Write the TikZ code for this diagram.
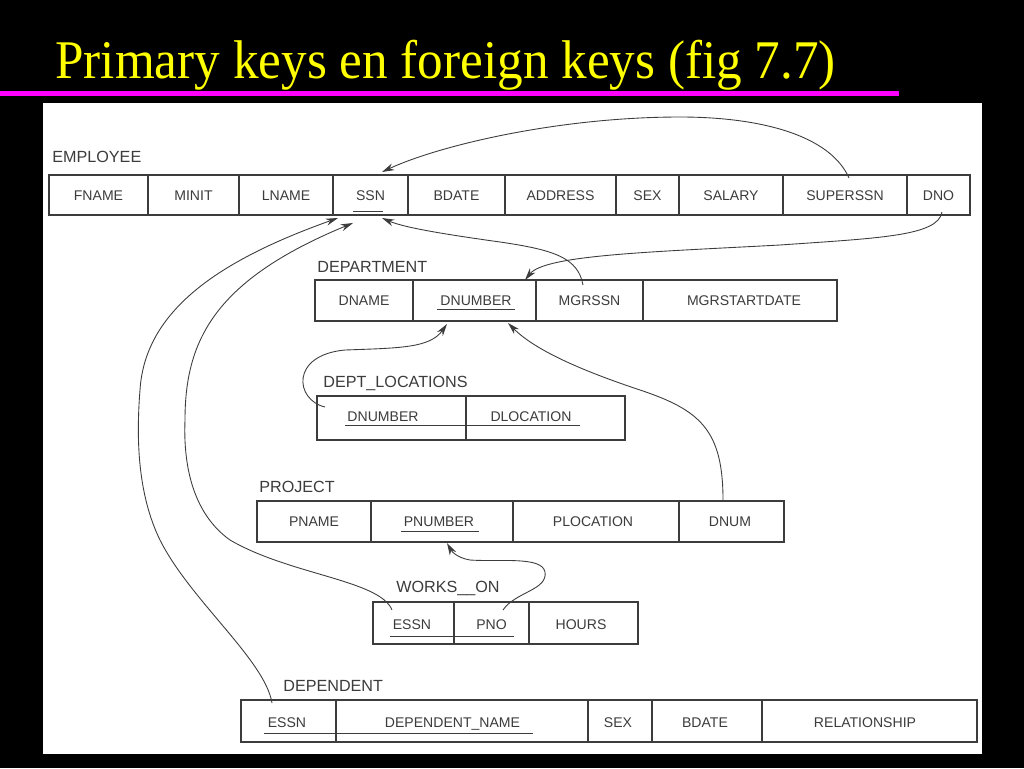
\documentclass[tikz,border=0pt]{standalone}
\usepackage{fontspec}
\usetikzlibrary{arrows.meta}
\newfontfamily\titlefont{Liberation Serif}
\newfontfamily\tablefont{Liberation Sans}
\definecolor{slidemagenta}{RGB}{255,0,255}
\definecolor{slideyellow}{RGB}{255,255,0}
\definecolor{inkgray}{RGB}{60,60,60}

\begin{document}
\begin{tikzpicture}[x=0.02cm, y=-0.02cm,
  tbl/.style={draw=inkgray, line width=0.6pt},
  fld/.style={inner sep=0pt, text=inkgray, text height=5.7pt, text depth=0pt, font=\tablefont\fontsize{8}{9}\selectfont},
  relname/.style={anchor=base west, inner sep=0pt, text=inkgray, font=\tablefont\fontsize{9.2}{11}\selectfont},
  key/.style={draw=inkgray, line width=0.5pt},
  fk/.style={draw=inkgray, line width=0.5pt, -{Stealth[length=7pt, width=4pt]}}]

  \useasboundingbox (0,0) rectangle (1024,768);

  % Slide
  \fill[black] (0,0) rectangle (1024,768);
  \node[anchor=base west, inner sep=0pt, xscale=0.94, text=slideyellow, font=\titlefont\fontsize{31}{33}\selectfont] (title) at (55,78) {Primary keys en foreign keys (fig 7.7)};
  \fill[slidemagenta] (0,91) rectangle (899,96);
  \fill[white] (43,103) rectangle (982,754);

  % Employee
  \node[relname] (employee) at (52,162) {EMPLOYEE};
  \draw[tbl] (49,175) rectangle (970,215);
  \foreach \x in {148,239,333,408,505,616,679,783,907} \draw[tbl] (\x,175) -- (\x,215);
  \node[fld] (fname) at (98.5,195) {FNAME};
  \node[fld] (minit) at (193.5,195) {MINIT};
  \node[fld] (lname) at (286,195) {LNAME};
  \node[fld] (ssn) at (370.5,195) {SSN};
  \node[fld] (bdate) at (456.5,195) {BDATE};
  \node[fld] (address) at (560.5,195) {ADDRESS};
  \node[fld] (sex) at (647.5,195) {SEX};
  \node[fld] (salary) at (731,195) {SALARY};
  \node[fld] (superssn) at (845,195) {SUPERSSN};
  \node[fld] (dno) at (938.5,195) {DNO};
  \draw[key] (353,211) -- (383,211);

  % Department
  \node[relname] (department) at (317,272) {DEPARTMENT};
  \draw[tbl] (315,280) rectangle (837,321);
  \foreach \x in {413,536,643} \draw[tbl] (\x,280) -- (\x,321);
  \node[fld] (dname) at (364,300.5) {DNAME};
  \node[fld] (dnumber) at (476,300.5) {DNUMBER};
  \node[fld] (mgrssn) at (589.5,300.5) {MGRSSN};
  \node[fld] (mgrstartdate) at (744,300.5) {MGRSTARTDATE};
  \draw[key] (437,309) -- (515,309);

  % Dept_locations
  \node[relname] (deptlocations) at (323,387) {DEPT\_LOCATIONS};
  \draw[tbl] (317,396) rectangle (625,440);
  \draw[tbl] (466,396) -- (466,440);
  \node[fld] (dlnumber) at (383,416) {DNUMBER};
  \node[fld] (dlocation) at (531,416) {DLOCATION};
  \draw[key] (345,425) -- (580,425);

  % Project
  \node[relname] (project) at (259,492) {PROJECT};
  \draw[tbl] (257,501) rectangle (784,542);
  \foreach \x in {371,513,679} \draw[tbl] (\x,501) -- (\x,542);
  \node[fld] (pname) at (314,521) {PNAME};
  \node[fld] (pnumber) at (439,521) {PNUMBER};
  \node[fld] (plocation) at (593,521) {PLOCATION};
  \node[fld] (dnum) at (730,521) {DNUM};
  \draw[key] (401,531) -- (479,531);

  % Works_on
  \node[relname] (workson) at (396,592) {WORKS\_\_ON};
  \draw[tbl] (373,602) rectangle (638,644);
  \foreach \x in {454,529} \draw[tbl] (\x,602) -- (\x,644);
  \node[fld] (wessn) at (412,624) {ESSN};
  \node[fld] (pno) at (491.5,624) {PNO};
  \node[fld] (hours) at (581,624) {HOURS};
  \draw[key] (390,636) -- (514,636);

  % Dependent
  \node[relname] (dependent) at (283,691) {DEPENDENT};
  \draw[tbl] (241,700) rectangle (977,742);
  \foreach \x in {336,588,652,762} \draw[tbl] (\x,700) -- (\x,742);
  \node[fld] (dessn) at (287,722) {ESSN};
  \node[fld] (dependentname) at (452.5,722) {DEPENDENT\_NAME};
  \node[fld] (dsex) at (618,722) {SEX};
  \node[fld] (dbdate) at (705,722) {BDATE};
  \node[fld] (relationship) at (865,722) {RELATIONSHIP};
  \draw[key] (264,733) -- (533,733);

  % Foreign key ends
  \coordinate (superssnOut) at (849,178);
  \coordinate (ssnTop) at (382,172);
  \coordinate (dnoOut) at (942,212);
  \coordinate (dnumberTop) at (525,280);
  \coordinate (mgrssnOut) at (583,285);
  \coordinate (ssnBotR) at (382,218);
  \coordinate (wessnOut) at (392,610);
  \coordinate (ssnBotM) at (353,223);
  \coordinate (dessnOut) at (272,703);
  \coordinate (ssnBotL) at (338,218);
  \coordinate (dlnumberOut) at (325,407);
  \coordinate (dnumberBotL) at (447,324);
  \coordinate (dnumOut) at (723,500);
  \coordinate (dnumberBotR) at (508,323);
  \coordinate (pnoOut) at (503,610);
  \coordinate (pnumberBot) at (447,543);

  % Foreign keys
  \draw[fk] (superssnOut) .. controls (830,135) and (760,117) .. (680,117) .. controls (560,117) and (440,145) .. (ssnTop);
  \draw[fk] (dnoOut) .. controls (938,236) and (880,238) .. (780,245) .. controls (650,252) and (545,255) .. (dnumberTop);
  \draw[fk] (mgrssnOut) .. controls (578,258) and (555,250) .. (500,242) .. controls (450,235) and (405,228) .. (ssnBotR);
  \draw[fk] (wessnOut) .. controls (380,580) and (290,575) .. (230,540) .. controls (195,515) and (183,470) .. (185,420) .. controls (185,340) and (215,280) .. (ssnBotM);
  \draw[fk] (dessnOut) .. controls (265,660) and (190,600) .. (160,540) .. controls (138,495) and (136,440) .. (140,390) .. controls (145,310) and (220,260) .. (ssnBotL);
  \draw[fk] (dlnumberOut) .. controls (295,400) and (290,355) .. (345,350) .. controls (400,348) and (430,348) .. (dnumberBotL);
  \draw[fk] (dnumOut) .. controls (723,430) and (700,410) .. (640,390) .. controls (580,370) and (535,350) .. (dnumberBotR);
  \draw[fk] (pnoOut) .. controls (515,592) and (548,590) .. (545,572) .. controls (542,556) and (500,562) .. (470,560) .. controls (458,558) and (452,552) .. (pnumberBot);

\end{tikzpicture}
\end{document}
